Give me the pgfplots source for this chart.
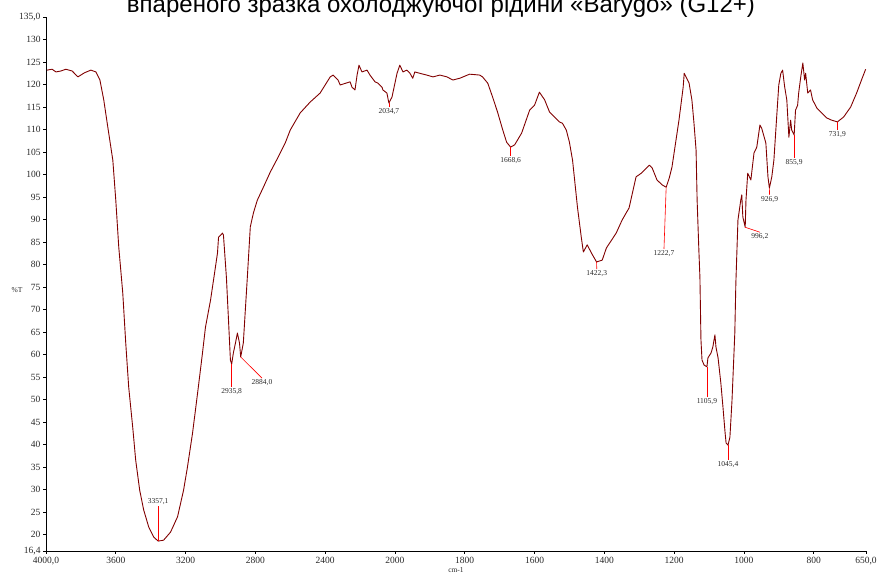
\documentclass[border=0pt]{standalone}
\usepackage{fontspec}
\setmainfont{Liberation Serif}
\newfontfamily\titlefont{Liberation Sans}
\usepackage{pgfplots}
\usepackage{pgfplotstable}
\pgfplotsset{compat=1.18}
\definecolor{curve}{RGB}{128,0,0}
\definecolor{ann}{RGB}{255,0,0}
\definecolor{lbl}{RGB}{40,40,40}

\pgfplotstableread{
wn T
3994 123.2
3965 123.4
3943 122.8
3915 123.0
3886 123.4
3850 123.0
3817 121.7
3780 122.6
3743 123.2
3714 122.8
3691 121.0
3669 116.6
3646 110.6
3617 103.2
3600 94.3
3583 83.9
3560 73.7
3543 62.6
3526 52.8
3503 43.9
3486 36.6
3463 29.9
3440 25.5
3411 21.7
3383 19.5
3357.1 18.6
3326 18.8
3286 20.6
3246 24.0
3211 30.0
3189 35.1
3160 42.6
3131 51.5
3103 60.4
3086 66.1
3057 72.1
3034 78.1
3017 82.6
3011 86.1
2995 86.7
2989 87.0
2983 86.6
2966 77.2
2954 67.7
2943 58.8
2935.8 57.9
2926 60.4
2914 62.6
2903 64.8
2891 62.6
2884 59.5
2869 62.6
2846 77.2
2829 88.4
2811 91.5
2789 94.3
2754 97.2
2714 100.6
2669 103.9
2629 107.0
2600 109.9
2543 113.7
2486 116.1
2429 118.1
2371 121.7
2354 122.1
2326 121.0
2314 119.9
2257 120.6
2246 119.4
2229 118.8
2217 122.1
2206 124.3
2189 122.8
2160 123.2
2143 122.1
2114 120.6
2097 120.3
2074 119.4
2069 118.8
2046 118.1
2034.7 115.9
2017 117.2
2000 120.3
1994 122.5
1986 124.3
1977 122.8
1966 123.2
1957 122.5
1949 121.4
1943 122.8
1929 122.5
1909 122.1
1891 121.7
1871 122.1
1851 121.7
1834 121.0
1814 121.4
1786 122.3
1757 122.1
1749 121.7
1734 120.3
1720 117.2
1706 113.9
1691 109.9
1680 107.2
1668.6 106.1
1657 106.6
1637 109.2
1614 114.3
1600 115.4
1586 118.3
1571 116.6
1557 113.9
1529 111.7
1520 111.4
1509 109.9
1500 107.2
1491 103.2
1486 99.5
1477 92.8
1466 86.1
1460 82.8
1449 84.4
1437 82.6
1422.3 80.6
1406 81.0
1394 83.7
1366 87.0
1349 89.9
1329 92.6
1309 99.5
1294 100.3
1271 102.1
1263 101.5
1249 98.8
1234 97.7
1222.7 97.2
1214 99.2
1206 101.7
1186 112.1
1174 119.4
1171 122.5
1157 120.3
1149 116.6
1143 111.4
1137 105.4
1134 94.3
1129 83.2
1126 77.2
1123 63.3
1120 58.8
1114 57.7
1105.9 57.3
1103 59.3
1094 60.4
1089 61.7
1083 64.4
1080 61.7
1074 59.3
1066 53.7
1060 48.4
1054 42.8
1051 40.4
1045.4 39.9
1040 41.7
1034 49.9
1026 64.8
1023 75.9
1017 89.9
1009 94.3
1006 95.5
1003 90.6
996.2 88.3
994 94.3
989 100.3
980 98.8
971 104.8
963 106.1
954 111.0
949 110.3
937 107.0
931 99.5
926.9 97.0
920 99.5
914 103.2
906 112.8
900 119.9
894 122.5
889 123.2
883 119.4
877 116.6
871 108.3
866 112.1
863 109.9
855.9 108.8
852 114.3
846 115.4
843 118.1
837 121.7
831 124.8
826 121.0
823 122.5
817 118.1
809 118.8
803 116.6
791 114.8
777 113.7
763 112.6
749 112.1
731.9 111.7
714 112.8
694 115.0
677 118.1
663 121.0
651 123.4
}\spectrum

\begin{document}
\begin{tikzpicture}
\useasboundingbox (-46pt,-24pt) rectangle (834pt,551pt);
\begin{axis}[
  at={(0,0)}, anchor=south west,
  scale only axis, width=820pt, height=534pt,
  xmin=0, xmax=2350, ymin=16.4, ymax=135,
  axis lines=left,
  axis line style={-, line width=0.8pt, black},
  tick align=outside, major tick length=3pt,
  tick style={black, line width=0.6pt},
  xtick={0,200,400,600,800,1000,1200,1400,1600,1800,2000,2200,2350},
  xticklabels={{4000,0},3600,3200,2800,2400,2000,1800,1600,1400,1200,1000,800,{650,0}},
  ytick={16.4,20,25,30,35,40,45,50,55,60,65,70,75,80,85,90,95,100,105,110,115,120,125,130,135},
  yticklabels={{16,4},20,25,30,35,40,45,50,55,60,65,70,75,80,85,90,95,100,105,110,115,120,125,130,{135,0}},
  ticklabel style={font=\fontsize{9.5}{10}\selectfont, text=lbl},
  xticklabel style={inner sep=1.5pt, yshift=-1.8pt},
  yticklabel style={xshift=1pt, inner sep=1.5pt, xshift=-1.8pt},
  clip=false,
]
\addplot[curve, line width=0.9pt, line join=round]
  table[x expr={max((4000-\thisrow{wn})/2, 3000-\thisrow{wn})}, y=T] {\spectrum};

\tikzset{pk/.style={font=\fontsize{7.5}{8.5}\selectfont, text=lbl, inner sep=1pt}}
\draw[ann, line width=0.6pt] (321.45,18.6) -- (321.45,26.3) node[above, pk] {3357,1};
\draw[ann, line width=0.6pt] (532.1,57.9) -- (532.1,52.8) node[below, pk] {2935,8};
\draw[ann, line width=0.6pt] (558,59.5) -- (619,54.8) node[below, pk] {2884,0};
\draw[ann, line width=0.6pt] (982.65,115.9) -- (982.65,115.0) node[below, pk] {2034,7};
\draw[ann, line width=0.6pt] (1331.4,106.1) -- (1331.4,104.1) node[below, pk] {1668,6};
\draw[ann, line width=0.6pt] (1577.7,80.6) -- (1578.5,79.0) node[below, pk] {1422,3};
\draw[ann, line width=0.6pt] (1777.3,97.2) -- (1771,83.5) node[below, pk] {1222,7};
\draw[ann, line width=0.6pt] (1894.1,57.3) -- (1894.1,50.6) node[below, pk] {1105,9};
\draw[ann, line width=0.6pt] (1954.6,39.9) -- (1954.6,36.6) node[below, pk] {1045,4};
\draw[ann, line width=0.6pt] (2003.8,88.3) -- (2046,87.2) node[below, pk] {996,2};
\draw[ann, line width=0.6pt] (2073.1,97.0) -- (2073.6,95.5) node[below, pk] {926,9};
\draw[ann, line width=0.6pt] (2144.1,108.8) -- (2144.1,103.7) node[below, pk] {855,9};
\draw[ann, line width=0.6pt] (2268.1,111.7) -- (2268.1,109.9) node[below, pk] {731,9};
\end{axis}
\node[font=\fontsize{7.5}{8}\selectfont, text=lbl] at (-29pt,261pt) {\%T};
\node[font=\fontsize{7.5}{8}\selectfont, text=lbl, inner sep=0pt] at (410pt,-19pt) {cm-1};
\node[font=\titlefont\fontsize{24}{26}\selectfont, anchor=base, text=black] at (395pt,538pt)
  {впареного зразка охолоджуючої рідини «Barygo» (G12+)};
\end{tikzpicture}
\end{document}
